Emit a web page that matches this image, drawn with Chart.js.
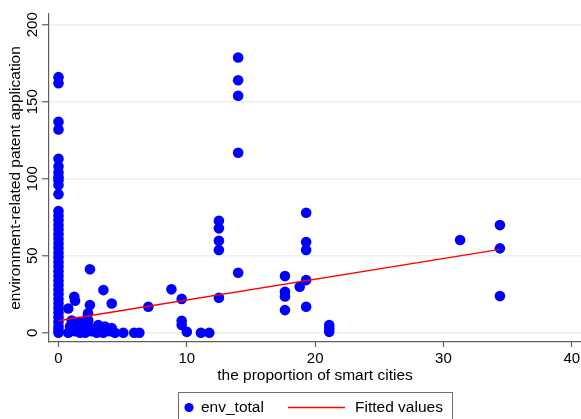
<!DOCTYPE html>
<html>
<head>
<meta charset="utf-8">
<script src="https://cdn.jsdelivr.net/npm/chart.js@4"></script>
<style>
  html, body { margin: 0; padding: 0; background: #ffffff; }
  #wrap { width: 581px; height: 419px; position: relative; }
</style>
</head>
<body>
<div id="wrap"><canvas id="c" width="581" height="419"></canvas></div>
<script>
// Axis tick values
const xTicks = [0, 10, 20, 30, 40];
const yTicks = [0, 50, 100, 150, 200];

// Share of smart cities (%) per observation
const smartShare = [
  0, 0, 0, 0, 0, 0, 0, 0, 0, 0,
  0, 0, 0, 0, 0, 0, 0, 0, 0, 0,
  0, 0, 0, 0, 0, 0, 0, 0, 0, 0,
  0, 0, 0, 0, 0, 0, 0, 0, 0,
  0.76, 1.29, 1.68, 2.07, 2.59, 2.98, 3.49, 4.01, 4.4, 5.05, 5.9, 6.3,
  0.9, 1.42, 2.07, 2.46, 3.1, 3.62, 4.15,
  1.03, 1.54, 2.2, 2.32,
  2.3, 0.76, 1.23, 1.29, 2.45, 2.45, 3.5, 4.15, 7.0,
  8.8, 9.6, 9.6, 9.6, 10.0, 11.1, 11.75,
  12.5, 12.5, 12.5, 12.5, 12.5,
  14, 14, 14, 14, 14,
  17.65, 17.65, 17.65, 17.65, 18.8,
  19.3, 19.3, 19.3, 19.3, 19.3,
  21.1, 21.1, 21.1,
  31.3, 34.4, 34.4, 34.4
];

// Environment-related patent applications per observation
const envTotal = [
  166, 162, 137, 132, 113, 108, 104, 101, 99, 96,
  90, 79, 76, 73, 70, 67, 64, 61, 58, 55,
  52, 49, 46, 43, 40, 37, 34, 31, 28, 25,
  22, 19, 16, 13, 10, 7, 4, 2, 0,
  0, 1, 0, 0, 1, 0, 0, 1, 0, 0, 0, 0,
  4, 5, 4, 3, 5, 4, 3,
  8, 7, 9, 8,
  12.6, 15.8, 23.4, 20.8, 41.2, 18, 27.7, 19, 16.9,
  28.2, 22, 7.8, 5, 0.6, 0, 0,
  72.7, 67.8, 59.7, 53.7, 22.7,
  178.8, 164, 153.9, 116.9, 39,
  36.8, 26.6, 23.6, 14.7, 29.9,
  77.9, 58.9, 53.7, 34.2, 16.9,
  5, 2.8, 0.6,
  60.2, 69.9, 54.8, 23.8
];

// Linear fit endpoints
const fitShare = [0, 34.4];
const fitValues = [7.8, 54.2];

const FONT = "'Liberation Sans', Arial, Helvetica, sans-serif";
const AXIS_GREY = '#5f5f5f';
const TEXT_SIZE = 15.5;

const scatterPoints = smartShare.map((x, i) => ({ x: x, y: envTotal[i] }));
const fitPoints = fitShare.map((x, i) => ({ x: x, y: fitValues[i] }));

// Legend drawn below the axes, inside a framed box
const framedLegend = {
  id: 'framedLegend',
  afterDraw(chart) {
    const ctx = chart.ctx;
    const pts = chart.data.datasets[1];
    const fit = chart.data.datasets[0];
    ctx.save();
    ctx.strokeStyle = '#707070';
    ctx.lineWidth = 1;
    ctx.strokeRect(178.5, 392.5, 274, 40);

    const cy = 407.5;
    ctx.fillStyle = pts.pointBackgroundColor;
    ctx.beginPath();
    ctx.arc(189, cy, 4.6, 0, Math.PI * 2);
    ctx.fill();

    ctx.strokeStyle = fit.borderColor;
    ctx.lineWidth = fit.borderWidth;
    ctx.beginPath();
    ctx.moveTo(288, cy);
    ctx.lineTo(345, cy);
    ctx.stroke();

    ctx.fillStyle = '#000000';
    ctx.font = TEXT_SIZE + 'px ' + FONT;
    ctx.textBaseline = 'middle';
    ctx.textAlign = 'left';
    ctx.fillText(pts.label, 201, cy);
    ctx.fillText(fit.label, 355, cy);
    ctx.restore();
  }
};

new Chart(document.getElementById('c'), {
  type: 'scatter',
  data: {
    datasets: [
      {
        type: 'line',
        label: 'Fitted values',
        data: fitPoints,
        borderColor: '#ff0000',
        borderWidth: 1.3,
        pointRadius: 0,
        fill: false,
        order: 0
      },
      {
        label: 'env_total',
        data: scatterPoints,
        pointBackgroundColor: '#0000ff',
        backgroundColor: '#0000ff',
        pointBorderWidth: 0,
        borderWidth: 0,
        pointRadius: 5.3,
        order: 1
      }
    ]
  },
  options: {
    responsive: false,
    animation: false,
    devicePixelRatio: 1,
    layout: { autoPadding: false, padding: { top: 14, bottom: 31, left: 0, right: 0 } },
    plugins: {
      legend: { display: false },
      tooltip: { enabled: false }
    },
    scales: {
      x: {
        type: 'linear',
        min: -0.74,
        max: 40.72,
        afterBuildTicks: s => { s.ticks = xTicks.map(v => ({ value: v })); },
        afterFit: s => { s.height = 46; s.paddingLeft = 0; s.paddingRight = 0; },
        border: { display: true, color: AXIS_GREY, width: 1.2 },
        grid: { drawOnChartArea: false, drawTicks: true, tickLength: 5, tickColor: AXIS_GREY, tickWidth: 1.2 },
        ticks: { color: '#000', padding: 3, maxRotation: 0, font: { family: FONT, size: 15 } },
        title: {
          display: true,
          text: 'the proportion of smart cities',
          color: '#000',
          font: { family: FONT, size: TEXT_SIZE },
          padding: { top: 0, bottom: 3 }
        }
      },
      y: {
        type: 'linear',
        min: -6,
        max: 207,
        afterBuildTicks: s => { s.ticks = yTicks.map(v => ({ value: v })); },
        afterFit: s => { s.width = 49; s.paddingTop = 0; s.paddingBottom = 0; },
        border: { display: true, color: AXIS_GREY, width: 1.2 },
        grid: { color: '#e9f1f2', lineWidth: 1.5, drawTicks: true, tickLength: 7, tickColor: AXIS_GREY, tickWidth: 1.2 },
        ticks: {
          color: '#000',
          minRotation: 90,
          maxRotation: 90,
          crossAlign: 'center',
          padding: -3,
          font: { family: FONT, size: 15 }
        },
        title: {
          display: true,
          text: 'environment-related patent application',
          color: '#000',
          font: { family: FONT, size: TEXT_SIZE },
          padding: { top: 6.7, bottom: 0 }
        }
      }
    }
  },
  plugins: [framedLegend]
});
</script>
</body>
</html>
